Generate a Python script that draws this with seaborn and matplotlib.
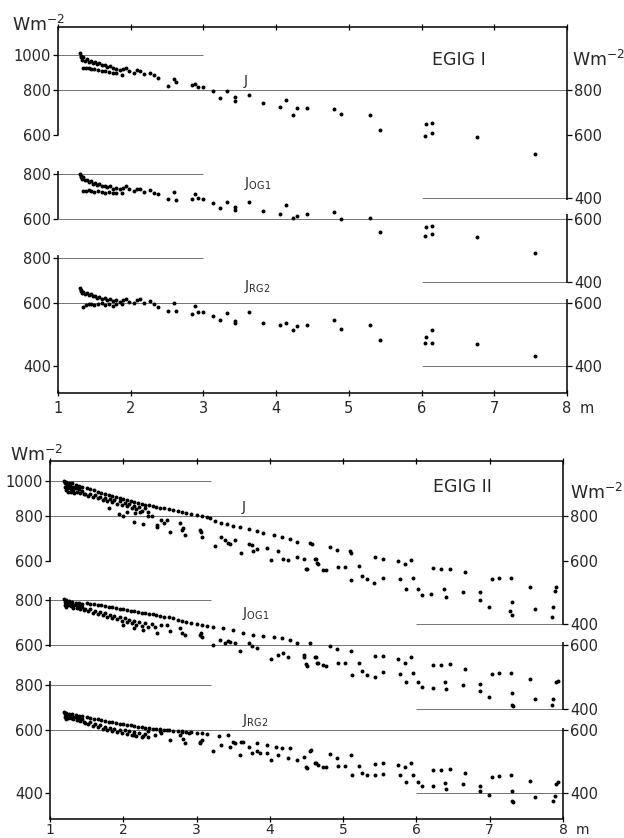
import pandas as pd
import seaborn as sns
import matplotlib.pyplot as plt
from matplotlib.ticker import NullLocator

# ---------------- data ----------------
# EGIG I: same stations (x, m) for the three fluxes (W m-2)
egig1_x = [1.30, 1.31, 1.32, 1.33, 1.35, 1.37, 1.40, 1.42, 1.45, 1.48, 1.51, 1.54, 1.57, 1.60, 1.64,
           1.68, 1.72, 1.76, 1.80, 1.85, 1.90, 1.94, 1.98, 2.04, 2.08, 2.13, 2.18, 2.27, 2.32,
           1.35, 1.38, 1.42, 1.46, 1.50, 1.55, 1.60, 1.65, 1.70, 1.75, 1.80, 1.88,
           2.37, 2.51, 2.59, 2.62, 2.84, 2.88, 2.92, 2.99, 3.13, 3.23, 3.33, 3.43, 3.43, 3.62, 3.82,
           4.05, 4.13, 4.23, 4.28, 4.42, 4.80, 4.89, 5.29, 5.43, 6.05, 6.06, 6.15, 6.15, 6.76, 7.56]
egig1_j = [1010, 985, 995, 970, 990, 965, 975, 958, 965, 950, 955, 942, 948, 936, 940,
           928, 932, 920, 915, 908, 912, 917, 900, 892, 907, 901, 885, 892, 878,
           920, 918, 922, 915, 912, 908, 905, 900, 898, 892, 888, 878,
           862, 821, 857, 840, 826, 830, 814, 814, 795, 758, 795, 766, 742, 775, 735,
           716, 747, 682, 712, 712, 707, 683, 679, 619, 594, 643, 647, 606, 592, 528]
egig1_og1 = [800, 785, 790, 772, 782, 768, 770, 758, 762, 752, 755, 745, 748, 740, 742,
             734, 738, 728, 730, 724, 732, 741, 725, 718, 726, 724, 712, 722, 710,
             715, 718, 720, 716, 714, 716, 712, 708, 712, 706, 710, 706,
             702, 680, 714, 677, 683, 702, 684, 683, 662, 642, 668, 647, 635, 670, 631,
             617, 654, 602, 611, 620, 626, 600, 601, 550, 538, 569, 574, 543, 534, 480]
egig1_rg2 = [660, 648, 652, 640, 645, 636, 640, 630, 634, 626, 628, 620, 624, 616, 618,
             612, 615, 606, 610, 604, 612, 615, 603, 600, 612, 615, 598, 608, 597,
             584, 592, 596, 594, 592, 596, 598, 592, 596, 590, 594, 596,
             584, 571, 600, 571, 559, 587, 567, 567, 553, 536, 562, 534, 528, 567, 527,
             519, 528, 505, 516, 519, 538, 506, 519, 473, 464, 482, 503, 464, 460, 426]

# EGIG II: (x, W m-2) pairs per flux
egig2_j = [
    (1.19, 1000), (1.20, 985), (1.21, 965), (1.22, 945), (1.22, 995), (1.23, 975), (1.24, 955),
    (1.25, 935), (1.26, 990), (1.27, 970), (1.28, 950), (1.29, 930), (1.30, 985), (1.31, 962),
    (1.32, 942), (1.33, 925), (1.35, 975), (1.36, 955), (1.37, 935), (1.39, 968), (1.40, 948),
    (1.41, 928), (1.43, 960), (1.44, 940), (1.46, 922),
    (1.50, 955), (1.55, 948), (1.60, 942), (1.65, 935), (1.70, 928), (1.75, 921), (1.80, 914),
    (1.85, 908), (1.90, 901), (1.95, 895), (2.00, 890), (2.05, 884), (2.10, 879), (2.15, 874),
    (2.20, 869), (2.25, 864), (2.30, 860), (2.35, 856), (2.40, 852), (2.45, 848), (2.50, 844),
    (2.56, 839), (2.62, 834), (2.68, 829), (2.74, 825), (2.80, 821), (2.86, 817), (2.93, 810),
    (3.00, 805), (3.07, 800), (3.14, 796),
    (1.48, 918), (1.52, 910), (1.55, 920), (1.58, 902), (1.62, 912), (1.65, 895), (1.68, 905),
    (1.72, 888), (1.75, 898), (1.78, 880), (1.82, 892), (1.85, 872), (1.88, 885), (1.92, 866),
    (1.95, 878), (1.98, 858), (2.02, 870), (2.05, 850), (2.08, 862), (2.12, 842), (2.15, 855),
    (2.18, 835), (2.22, 848), (2.26, 828), (2.30, 840), (2.34, 820),
    (1.80, 840), (1.94, 812), (2.00, 797), (2.05, 818), (2.14, 771), (2.16, 814), (2.23, 822),
    (2.27, 759), (2.34, 797), (2.39, 802), (2.46, 756), (2.46, 745), (2.52, 780), (2.55, 763),
    (2.59, 780), (2.64, 723), (2.77, 763), (2.80, 732), (2.82, 740), (2.84, 709), (3.05, 732),
    (3.06, 723), (3.07, 701), (3.25, 658), (3.34, 701), (3.39, 686), (3.43, 672), (3.46, 669),
    (3.52, 686), (3.61, 631), (3.71, 667), (3.75, 665), (3.77, 639), (3.82, 646), (3.96, 652),
    (4.02, 603), (4.11, 639), (4.18, 606), (4.25, 603), (4.37, 615), (4.46, 609), (4.50, 569),
    (4.62, 609), (4.64, 593),
    (3.18, 790), (3.25, 775), (3.34, 766), (3.42, 760), (3.50, 752), (3.59, 745), (3.71, 736),
    (3.82, 727), (3.91, 716), (4.05, 709), (4.16, 700), (4.27, 690), (4.37, 679), (4.55, 672),
    (4.57, 668), (4.82, 657), (4.91, 645), (5.09, 638), (5.11, 630), (5.43, 616), (5.55, 608),
    (5.75, 600), (5.84, 589), (5.92, 602), (6.23, 574), (6.34, 571), (6.46, 569), (6.66, 560),
    (7.03, 534), (7.13, 538), (7.29, 537), (7.55, 509), (7.91, 507), (7.89, 495),
    (4.51, 571), (4.63, 606), (4.66, 588), (4.73, 567), (4.77, 565), (4.93, 577), (5.03, 575),
    (5.11, 532), (5.22, 580), (5.26, 543), (5.32, 533), (5.42, 521), (5.55, 538), (5.77, 533),
    (5.86, 500), (5.96, 538), (6.02, 500), (6.07, 482), (6.20, 486), (6.38, 501), (6.41, 477),
    (6.64, 491), (6.87, 491), (6.87, 468), (6.99, 446), (7.30, 462), (7.28, 435), (7.30, 424),
    (7.62, 441), (7.87, 446), (7.85, 420),
]
egig2_og1 = [
    (1.19, 805), (1.20, 792), (1.21, 778), (1.22, 768), (1.22, 800), (1.23, 786), (1.24, 774),
    (1.26, 797), (1.27, 783), (1.28, 770), (1.30, 792), (1.31, 778), (1.32, 764), (1.35, 788),
    (1.36, 774), (1.37, 760), (1.39, 784), (1.40, 770), (1.41, 757), (1.43, 780), (1.44, 766),
    (1.46, 754),
    (1.50, 786), (1.55, 783), (1.60, 780), (1.65, 777), (1.70, 774), (1.75, 771), (1.80, 768),
    (1.85, 765), (1.90, 762), (1.95, 759), (2.00, 756), (2.05, 752), (2.10, 749), (2.15, 746),
    (2.20, 743), (2.25, 740), (2.30, 737), (2.35, 734), (2.40, 731), (2.45, 728), (2.50, 725),
    (2.56, 721), (2.62, 717), (2.68, 713), (2.74, 707), (2.80, 701), (2.86, 695), (2.93, 690),
    (3.00, 686), (3.07, 683),
    (1.48, 755), (1.52, 748), (1.55, 757), (1.58, 740), (1.62, 749), (1.65, 733), (1.68, 742),
    (1.72, 727), (1.75, 736), (1.78, 720), (1.82, 730), (1.85, 714), (1.88, 724), (1.92, 709),
    (1.95, 719), (1.98, 702), (2.02, 713), (2.05, 697), (2.08, 707), (2.12, 691), (2.15, 701),
    (2.18, 685), (2.22, 696), (2.26, 680), (2.30, 690), (2.34, 675),
    (2.00, 683), (2.14, 669), (2.27, 662), (2.39, 688), (2.43, 675), (2.46, 650), (2.52, 683),
    (2.59, 683), (2.64, 656), (2.77, 669), (2.80, 648), (2.84, 640), (3.05, 642), (3.06, 648),
    (3.07, 632), (3.23, 602), (3.32, 622), (3.39, 610), (3.43, 615), (3.46, 614), (3.52, 608),
    (3.59, 577), (3.71, 608), (3.75, 598), (3.82, 591), (4.02, 551), (4.11, 564), (4.18, 570),
    (4.25, 557), (4.46, 557), (4.50, 532), (4.62, 557), (4.64, 537),
    (3.14, 680), (3.23, 675), (3.36, 669), (3.50, 662), (3.64, 651), (3.77, 642), (3.91, 635),
    (4.05, 632), (4.16, 627), (4.27, 622), (4.37, 608), (4.55, 608),
    (4.46, 564), (4.51, 526), (4.63, 557), (4.66, 537), (4.73, 528), (4.77, 526), (4.82, 598),
    (4.91, 586), (4.93, 537), (5.03, 535), (5.11, 578), (5.12, 496), (5.22, 534), (5.26, 510),
    (5.32, 496), (5.43, 561), (5.43, 490), (5.55, 561), (5.55, 507), (5.75, 550), (5.77, 500),
    (5.84, 537), (5.86, 475), (5.92, 555), (5.96, 504), (6.02, 474), (6.07, 458), (6.22, 528),
    (6.22, 456), (6.33, 528), (6.39, 475), (6.41, 453), (6.46, 531), (6.64, 465), (6.66, 515),
    (6.87, 467), (6.87, 447), (6.99, 430), (7.03, 500), (7.13, 504), (7.29, 504), (7.30, 442),
    (7.30, 410), (7.32, 407), (7.55, 484), (7.62, 426), (7.87, 426), (7.85, 409), (7.91, 473),
    (7.93, 478),
]
egig2_rg2 = [
    (1.19, 672), (1.20, 662), (1.21, 652), (1.22, 643), (1.22, 668), (1.23, 658), (1.24, 648),
    (1.26, 665), (1.27, 655), (1.28, 645), (1.30, 662), (1.31, 652), (1.32, 641), (1.35, 659),
    (1.36, 649), (1.37, 638), (1.39, 656), (1.40, 646), (1.41, 635), (1.43, 653), (1.44, 643),
    (1.46, 632),
    (1.50, 650), (1.55, 647), (1.60, 644), (1.65, 641), (1.70, 638), (1.75, 635), (1.80, 632),
    (1.85, 630), (1.90, 627), (1.95, 624), (2.00, 622), (2.05, 619), (2.10, 617), (2.15, 614),
    (2.20, 612), (2.25, 610), (2.30, 607), (2.35, 605), (2.40, 603), (2.45, 602), (2.50, 601),
    (2.56, 599), (2.62, 597), (2.68, 596), (2.74, 594), (2.80, 593), (2.86, 591), (2.93, 590),
    (3.00, 588), (3.07, 587),
    (1.48, 628), (1.52, 622), (1.55, 630), (1.58, 615), (1.62, 624), (1.65, 609), (1.68, 618),
    (1.72, 603), (1.75, 612), (1.78, 598), (1.82, 608), (1.85, 594), (1.88, 604), (1.92, 591),
    (1.95, 600), (1.98, 587), (2.02, 597), (2.05, 584), (2.08, 594), (2.12, 580), (2.15, 591),
    (2.18, 577), (2.22, 588), (2.26, 574), (2.30, 585), (2.34, 571),
    (2.14, 581), (2.27, 575), (2.34, 594), (2.43, 581), (2.50, 594), (2.52, 587), (2.59, 600),
    (2.64, 560), (2.77, 581), (2.80, 594), (2.82, 566), (2.84, 551), (2.89, 587), (3.05, 556),
    (3.05, 551), (3.07, 563), (3.23, 524), (3.30, 575), (3.34, 545), (3.43, 581), (3.46, 538),
    (3.50, 556), (3.52, 551), (3.59, 510), (3.61, 556), (3.71, 538), (3.75, 516), (3.82, 524),
    (3.86, 516), (3.96, 516), (4.02, 494), (4.09, 538), (4.11, 510), (4.25, 501), (4.27, 532),
    (4.37, 494), (4.46, 505), (4.50, 474), (4.55, 524), (4.62, 485),
    (3.14, 584), (3.64, 556), (3.82, 551), (3.96, 545), (4.16, 535),
    (4.51, 471), (4.56, 528), (4.63, 485), (4.66, 480), (4.73, 474), (4.77, 472), (4.82, 514),
    (4.91, 501), (4.93, 476), (5.03, 477), (5.11, 510), (5.12, 450), (5.22, 476), (5.26, 455),
    (5.32, 449), (5.43, 481), (5.43, 449), (5.55, 485), (5.55, 452), (5.75, 479), (5.77, 449),
    (5.84, 474), (5.86, 429), (5.92, 485), (5.96, 450), (6.02, 428), (6.07, 418), (6.22, 464),
    (6.22, 418), (6.33, 464), (6.39, 426), (6.41, 411), (6.46, 466), (6.64, 423), (6.66, 455),
    (6.87, 418), (6.87, 406), (6.99, 396), (7.03, 444), (7.13, 447), (7.29, 450), (7.30, 404),
    (7.30, 381), (7.32, 378), (7.55, 432), (7.62, 390), (7.87, 381), (7.89, 392), (7.91, 423),
    (7.93, 428),
]

x_ticks = [1, 2, 3, 4, 5, 6, 7, 8]
left_ticks = [('J', 1000), ('J', 800), ('J', 600), ('OG1', 800), ('OG1', 600),
              ('RG2', 800), ('RG2', 600), ('RG2', 400)]
right_ticks = [('J', 800), ('J', 600), ('J', 400), ('OG1', 600), ('OG1', 400),
               ('RG2', 600), ('RG2', 400)]

# ---------------- layout ----------------
# the three curves are stacked on one log axis by dividing by these factors
SHIFT = {'J': 1.0, 'OG1': 1.717, 'RG2': 2.948}

sns.set_style('ticks')
plt.rcParams['font.family'] = ['DejaVu Sans']
plt.rcParams['mathtext.default'] = 'regular'

fig = plt.figure(figsize=(6.24, 8.38), dpi=100)


def make_df(series):
    frames = []
    for name, (xs, ys) in series.items():
        frames.append(pd.DataFrame({'x': xs, 'y': [v / SHIFT[name] for v in ys], 'flux': name}))
    return pd.concat(frames, ignore_index=True)


def draw_panel(rect, ylim, df, title, title_pos, left_end, label_x, label_vals,
               left_segs, right_segs, xpad, xsize):
    ax = fig.add_axes(rect)
    sns.scatterplot(data=df, x='x', y='y', ax=ax, color='k', s=8, linewidth=0,
                    legend=False, zorder=3)
    ax.set_yscale('log')
    ax.set_xlim(1, 8)
    ax.set_ylim(*ylim)
    ax.yaxis.set_minor_locator(NullLocator())
    ax.set_xlabel('')
    ax.set_ylabel('')

    # thin reference lines
    for name in ['J', 'OG1', 'RG2']:
        s = SHIFT[name]
        top_val = 1000 if name == 'J' else 800
        ax.hlines(top_val / s, 1, left_end, color='0.45', lw=0.7, zorder=1)
        mid_val = 800 if name == 'J' else 600
        ax.hlines(mid_val / s, 1, 8, color='0.45', lw=0.7, zorder=1)
        ax.hlines(400 / s, 6, 8, color='0.45', lw=0.7, zorder=1)

    # broken side axes
    ax.spines['left'].set_visible(False)
    ax.spines['right'].set_visible(False)
    for sp in ['top', 'bottom']:
        ax.spines[sp].set_linewidth(1.1)
        ax.spines[sp].set_color('k')
    for xpos, segs in [(1, left_segs), (8, right_segs)]:
        for name, lo, hi in segs:
            s = SHIFT[name]
            y0 = ylim[0] if lo is None else lo / s
            y1 = ylim[1] if hi is None else hi / s
            ax.vlines(xpos, y0, y1, color='k', lw=1.1, clip_on=False, zorder=4)

    ax.set_xticks(x_ticks, [str(t) for t in x_ticks])
    ax.tick_params(axis='x', top=True, direction='inout', length=5, width=0.9,
                   pad=xpad, labelsize=xsize, color='k')
    ax.set_yticks([v / SHIFT[n] for n, v in left_ticks], [str(v) for n, v in left_ticks])
    ax.tick_params(axis='y', direction='out', length=3.5, width=0.9, pad=1.5,
                   labelsize=10.5, color='k')

    tw = ax.twinx()
    tw.set_yscale('log')
    tw.set_ylim(*ylim)
    tw.yaxis.set_minor_locator(NullLocator())
    tw.set_yticks([v / SHIFT[n] for n, v in right_ticks], [str(v) for n, v in right_ticks])
    tw.tick_params(axis='y', direction='out', length=3.5, width=0.9, pad=1.5,
                   labelsize=10.5, color='k')
    for sp in tw.spines.values():
        sp.set_visible(False)

    ax.annotate('m', xy=(8, 0), xycoords=('data', 'axes fraction'), xytext=(14, -(2.5 + xpad)),
                textcoords='offset points', ha='center', va='top', fontsize=xsize)
    ax.text(title_pos[0], title_pos[1], title, transform=ax.transAxes, ha='center',
            va='baseline', fontsize=12.5)
    labels = {'J': 'J', 'OG1': 'J$_{OG1}$', 'RG2': 'J$_{RG2}$'}
    for name, val in label_vals.items():
        ax.text(label_x, val / SHIFT[name], labels[name], ha='left', va='center', fontsize=10)
    return ax


df1 = make_df({'J': (egig1_x, egig1_j), 'OG1': (egig1_x, egig1_og1),
               'RG2': (egig1_x, egig1_rg2)})
df2 = make_df({n: ([p[0] for p in d], [p[1] for p in d])
               for n, d in [('J', egig2_j), ('OG1', egig2_og1), ('RG2', egig2_rg2)]})

draw_panel([58 / 624, 1 - 393 / 838, 509 / 624, 366 / 838], (114.1, 1197), df1,
           'EGIG I', (0.788, 0.896), 3.0, 3.56,
           {'J': 846, 'OG1': 751, 'RG2': 666},
           [('J', 600, None), ('OG1', 600, 815), ('RG2', None, 815)],
           [('J', 395, None), ('OG1', 397, 620), ('RG2', None, 615)],
           3.0, 10.5)

draw_panel([50 / 624, 1 - 819 / 838, 513 / 624, 358 / 838], (114.9, 1137), df2,
           'EGIG II', (0.803, 0.913), 3.2, 3.62,
           {'J': 846, 'OG1': 736, 'RG2': 635},
           [('J', 597, None), ('OG1', 594, 815), ('RG2', None, 817)],
           [('J', 397, None), ('OG1', 397, 613), ('RG2', None, 608)],
           0.3, 10)

# unit labels
for xf, yf in [(12 / 624, 1 - 31 / 838), (10 / 624, 1 - 461 / 838),
               (572 / 624, 1 - 66 / 838), (570 / 624, 1 - 499 / 838)]:
    fig.text(xf, yf, 'Wm$^{-2}$', ha='left', va='baseline', fontsize=12.5)

fig.savefig('out.png', dpi=100)
